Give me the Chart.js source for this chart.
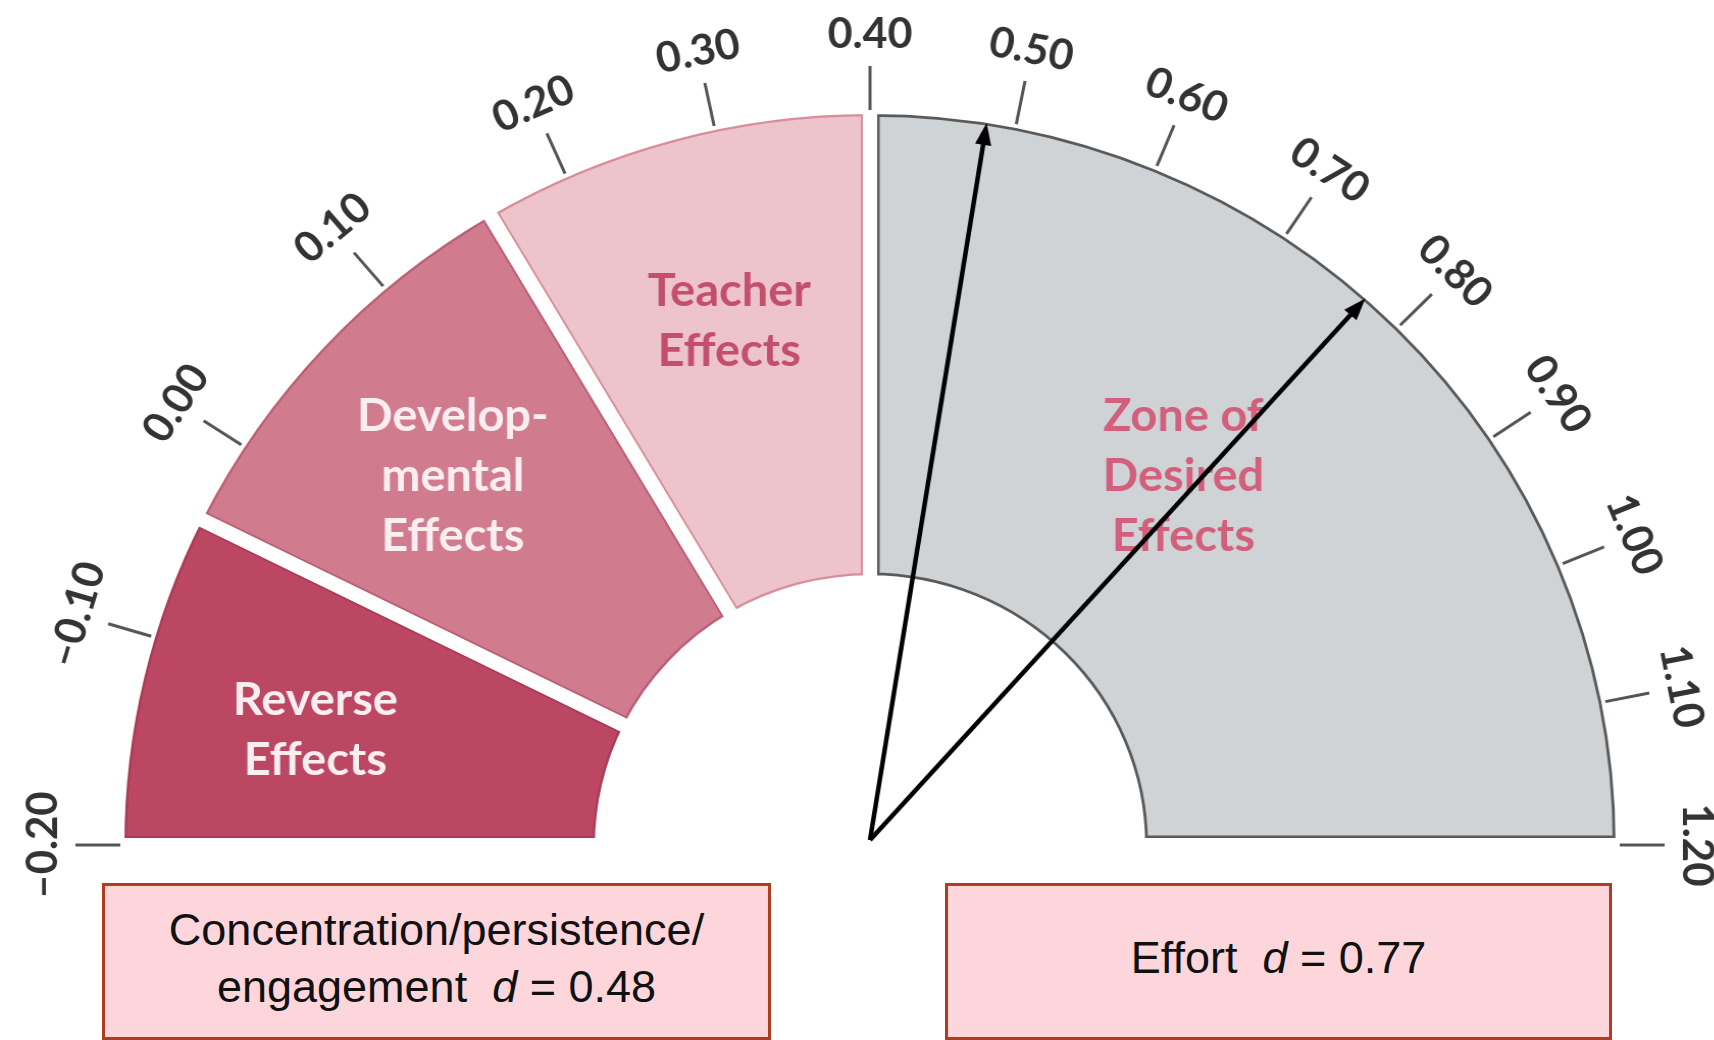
<!DOCTYPE html>
<html lang="en">
<head>
<meta charset="UTF-8">
<title>Effect size barometer</title>
<style>
    html, body {
        margin: 0;
        padding: 0;
        background: #fff;
    }

    body {
        width: 1714px;
        height: 1040px;
        position: relative;
        overflow: hidden;
        font-family: "Liberation Sans", Arial, sans-serif;
    }

    .gauge {
        position: absolute;
        left: 0;
        top: 0;
        width: 1714px;
        height: 1040px;
        transform: scaleX(1.02);
        transform-origin: 870px 0;
    }

    .box {
        position: absolute;
        top: 883px;
        height: 157px;
        box-sizing: border-box;
        border: 3px solid #b23c1e;
        background: #fcd6db;
        display: flex;
        align-items: center;
        justify-content: center;
        text-align: center;
        font-size: 45px;
        line-height: 57px;
        color: #111;
        padding: 0 30px 8px;
    }
</style>
<script src="https://cdn.jsdelivr.net/npm/chart.js"></script>
</head>
<body>
    <div class="gauge"><canvas id="gauge"></canvas></div>
    <div class="box" style="left:102px; width:669px;"><span id="box0"></span></div>
    <div class="box" style="left:945px; width:667px;"><span id="box1"></span></div>

<script>
    // zones of the barometer (effect size d)
    const zoneNames = [['Reverse', 'Effects'], ['Develop-', 'mental', 'Effects'], ['Teacher', 'Effects'], ['Zone of', 'Desired', 'Effects']];
    const zoneBounds = [-0.20, -0.04, 0.16, 0.40, 1.20];
    const zoneColors = ['#bc4763', '#d07b8e', '#edc4cb', '#cfd3d5'];

    // scale round the arc
    const tickValues = [-0.2, -0.1, 0.0, 0.1, 0.2, 0.3, 0.4, 0.5, 0.6, 0.7, 0.8, 0.9, 1.0, 1.1, 1.2];
    const tickLabels = ['\u20130.20', '\u20130.10', '0.00', '0.10', '0.20', '0.30', '0.40', '0.50', '0.60', '0.70', '0.80', '0.90', '1.00', '1.10', '1.20'];

    // influences marked with arrows
    const effectNames = ['Concentration/persistence/ engagement', 'Effort'];
    const effectValues = [0.48, 0.77];

    // the dial is not linear: left half -0.2..0.4, right half 0.4..1.2
    function gaugeAngle(v) {
        if (v <= 0.2) return (v + 0.2) / 0.1 * 16.5;
        if (v <= 0.4) return 66 + (v - 0.2) / 0.1 * 12;
        return 90 + (v - 0.4) / 0.1 * 11.25;
    }
    const toRad = v => Math.PI * (gaugeAngle(v) / 180 - 1);

    const spans = zoneBounds.slice(1).map((b, i) => gaugeAngle(b) - gaugeAngle(zoneBounds[i]));

    const GAP = 7; // half of the white gap between zones

    const gaugeOverlay = {
        id: 'gaugeOverlay',
        afterDatasetsDraw(chart, args, opts) {
            const arcs = chart.getDatasetMeta(0).data;
            const ctx = chart.ctx;

            // white gaps: redraw each arc's edges with a wide white border
            const wipe = {
                backgroundColor: 'rgba(0,0,0,0)', borderColor: '#fff', borderWidth: GAP * 2,
                borderAlign: 'center', borderJoinStyle: 'miter', borderRadius: 0,
                borderDash: [], borderDashOffset: 0, offset: 0, spacing: 0, circular: true
            };
            arcs.forEach(arc => {
                const keep = arc.options;
                arc.options = wipe;
                arc.draw(ctx);
                arc.options = keep;
            });

            const cx = arcs[0].x, cy = arcs[0].y;
            const R = arcs[0].outerRadius - GAP, r0 = arcs[0].innerRadius + GAP;

            // ticks and labels
            ctx.save();
            ctx.strokeStyle = '#555';
            ctx.lineWidth = 3;
            ctx.fillStyle = '#333';
            ctx.font = 'bold 42px Lato';
            ctx.textAlign = 'center';
            ctx.textBaseline = 'middle';
            tickValues.forEach((v, i) => {
                const a = toRad(v);
                const c = Math.cos(a), s = Math.sin(a);
                ctx.beginPath();
                ctx.moveTo(cx + (R + 4) * c, cy + (R + 4) * s);
                ctx.lineTo(cx + (R + 48) * c, cy + (R + 48) * s);
                ctx.stroke();
                ctx.save();
                ctx.translate(cx + (R + 80) * c, cy + (R + 80) * s);
                ctx.rotate(a + Math.PI / 2);
                ctx.fillText(tickLabels[i], 0, 0);
                ctx.restore();
            });

            // zone names
            ctx.font = 'bold 46px Lato';
            arcs.forEach((arc, i) => {
                const [at, depth] = opts.labelSpots[i];
                const a = toRad(at);
                const r = r0 + depth * (R - r0);
                const x = cx + r * Math.cos(a), y = cy + r * Math.sin(a);
                const lines = zoneNames[i];
                ctx.fillStyle = opts.textColors[i];
                lines.forEach((t, k) => {
                    ctx.fillText(t, x, y + (k - (lines.length - 1) / 2) * 60);
                });
            });

            // arrows
            ctx.strokeStyle = '#000';
            ctx.fillStyle = '#000';
            ctx.lineWidth = 4.5;
            effectValues.forEach(v => {
                const a = toRad(v);
                const c = Math.cos(a), s = Math.sin(a);
                const head = 22, half = 8;
                ctx.beginPath();
                ctx.moveTo(cx, cy - 5);
                ctx.lineTo(cx + (R - head + 2) * c, cy + (R - head + 2) * s);
                ctx.stroke();
                const bx = cx + (R - head) * c, by = cy + (R - head) * s;
                ctx.beginPath();
                ctx.moveTo(cx + R * c, cy + R * s);
                ctx.lineTo(bx - half * s, by + half * c);
                ctx.lineTo(bx + half * s, by - half * c);
                ctx.closePath();
                ctx.fill();
            });
            ctx.restore();
        }
    };

    new Chart(document.getElementById('gauge'), {
        type: 'doughnut',
        data: {
            labels: zoneNames.map(n => n.join(' ')),
            datasets: [{
                data: spans,
                backgroundColor: zoneColors,
                borderColor: ['#a93b56', '#bb5f75', '#d98c9b', '#5a5a5a'],
                borderWidth: [9, 9, 9, 9.5],
                borderAlign: 'inner'
            }]
        },
        options: {
            responsive: true,
            maintainAspectRatio: false,
            animation: false,
            rotation: -90,
            circumference: 180,
            cutout: '35.6%',
            layout: {
                padding: { left: 132, right: 106, top: 107, bottom: 195 }
            },
            plugins: {
                legend: { display: false },
                tooltip: { enabled: false },
                gaugeOverlay: {
                    labelSpots: [[-0.128, 0.62], [0.055, 0.61], [0.277, 0.59], [0.754, 0.455]],
                    textColors: ['#fbeef1', '#fbeef1', '#c44f6c', '#d25f7c']
                }
            }
        },
        plugins: [gaugeOverlay]
    });

    effectNames.forEach((name, i) => {
        document.getElementById('box' + i).innerHTML =
            name + '&nbsp;&nbsp;<i>d</i> = ' + effectValues[i].toFixed(2);
    });
</script>
</body>
</html>
